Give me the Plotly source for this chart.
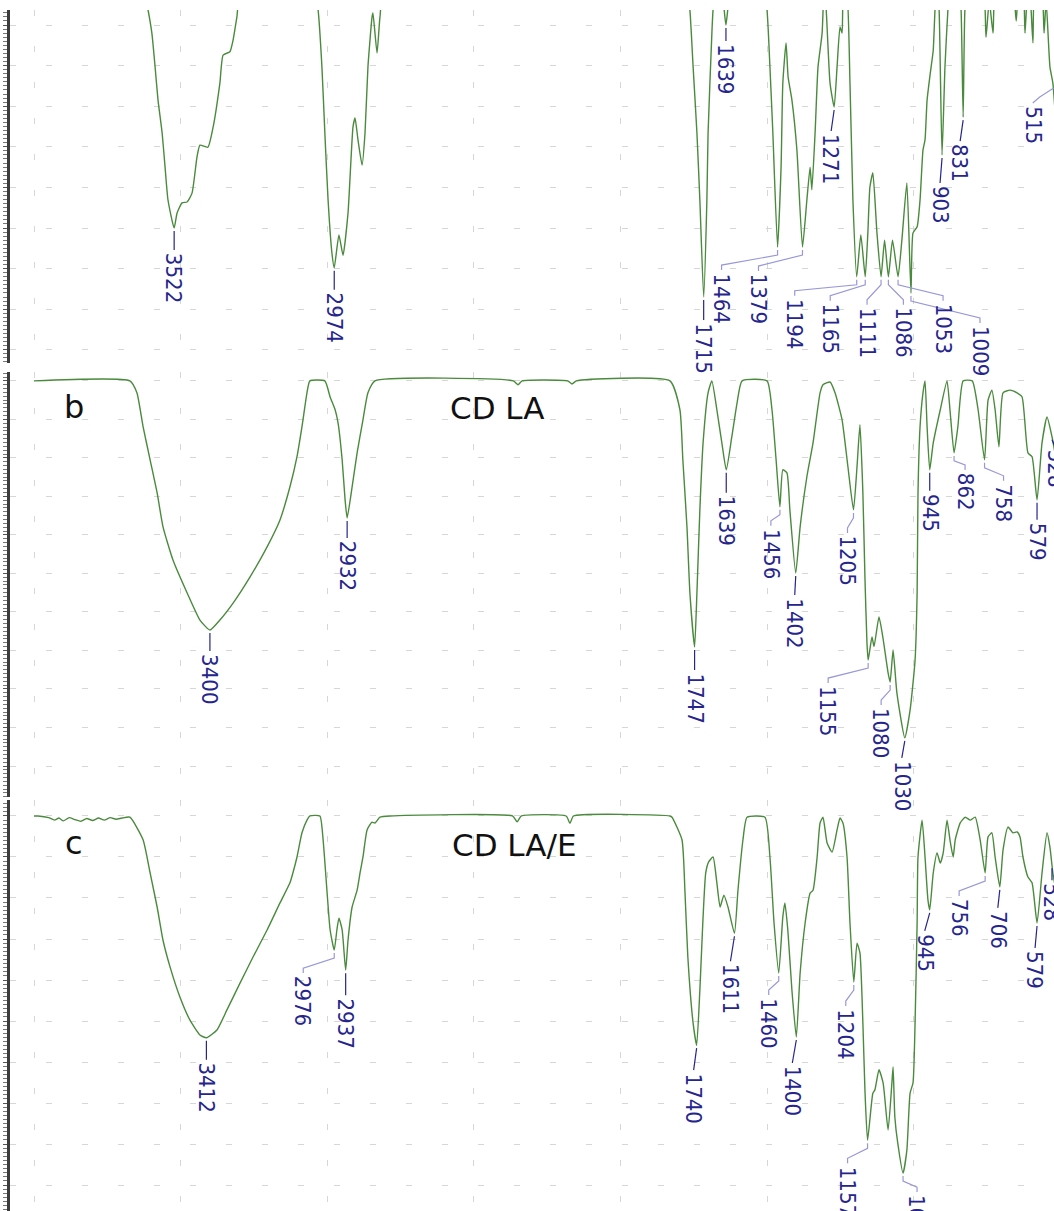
import plotly.graph_objects as go

# ---------------- data (wavenumber cm-1, transmittance %) ----------------
# panel a (top, cropped)
wn_a = [4000, 3630, 3611, 3598, 3587, 3577, 3563, 3553, 3543, 3522, 3512, 3495, 3478, 3461,
        3444, 3434, 3407, 3389, 3366, 3355, 3332, 3321, 3308, 3290,
        3045, 3031, 3018, 3008, 2997, 2984, 2976, 2960, 2946, 2929, 2912, 2905, 2895, 2881,
        2871, 2861, 2847, 2844, 2830, 2820, 2800,
        1775, 1763, 1752, 1739, 1729, 1716, 1705, 1701, 1688, 1684, 1672, 1652, 1646, 1640,
        1634, 1625, 1515, 1500, 1490, 1480, 1464, 1452, 1446, 1435, 1428, 1415, 1398, 1379,
        1364, 1353, 1347, 1336, 1326, 1312, 1305, 1298, 1285, 1271, 1261, 1251, 1244, 1238,
        1230, 1217, 1207, 1194, 1180, 1165, 1156, 1149, 1139, 1125, 1111, 1099, 1086, 1072,
        1053, 1040, 1023, 1009, 1002, 988, 978, 968, 961, 954, 943, 933, 927, 920, 913, 903,
        893, 883, 875, 845, 838, 831, 825, 815, 765, 753, 742, 729, 718, 665, 650, 640, 628,
        620, 610, 602, 593, 585, 565, 555, 548, 535, 525, 515]
t_a = [100, 100, 93.7, 88.0, 79.7, 71.5, 63.4, 55.0, 46.9, 40.0, 43.7, 46.2, 46.4, 48.6,
       57.5, 60.4, 59.9, 64.9, 75.7, 82.6, 83.4, 86.3, 92.0, 100,
       100, 93.7, 79.7, 63.4, 46.9, 33.9, 30.2, 38.3, 33.3, 43.7, 64.9, 67.1, 61.7, 55.5,
       63.4, 79.7, 92.0, 93.0, 83.1, 92.0, 100,
       100, 93.7, 79.7, 63.4, 46.9, 23.0, 46.9, 63.4, 88.0, 93.7, 100, 100, 93.7, 90.0,
       93.7, 100, 100, 93.7, 79.7, 63.4, 35.3, 55.0, 75.7, 85.6, 77.2, 71.5, 59.2, 35.3,
       46.9, 55.0, 49.4, 63.4, 79.7, 88.0, 100, 93.7, 75.7, 69.8, 79.7, 89.5, 88.0, 100,
       100, 75.7, 46.9, 28.0, 38.3, 28.0, 38.8, 50.1, 53.6, 38.8, 28.0, 37.0, 28.0, 37.0,
       28.0, 37.0, 51.1, 24.0, 38.8, 40.3, 46.9, 59.2, 61.7, 71.5, 78.2, 83.8, 93.7, 100, 93.7, 58.0,
       79.7, 93.7, 100, 100, 93.7, 67.3, 93.7, 100, 100, 87.0, 96.0, 88.0, 100, 100, 91.0, 100, 100,
       88.0, 100, 97.0, 85.6, 100, 100, 88.0, 96.0, 79.7, 75.7, 66.0]

# panel b: CD LA
wn_b = [4000, 3673, 3649, 3628, 3604, 3580, 3560, 3526, 3478, 3434, 3400, 3366, 3321, 3263,
        3205, 3161, 3127, 3103, 3086, 3069, 3059, 3008, 2990, 2973, 2963, 2949, 2939, 2932,
        2915, 2898, 2878, 2861, 2837, 2365, 2349, 2335, 2180, 2165, 2150, 1831, 1797, 1787,
        1773, 1763, 1747, 1739, 1729, 1718, 1701, 1688, 1671, 1654, 1639, 1620, 1602, 1585,
        1500, 1483, 1469, 1456, 1446, 1432, 1422, 1402, 1387, 1364, 1343, 1319, 1309, 1285,
        1268, 1244, 1224, 1205, 1193, 1183, 1173, 1166, 1159, 1155, 1142, 1135, 1118, 1104,
        1087, 1080, 1070, 1057, 1030, 1012, 995, 988, 985, 978, 968, 961, 954, 945, 933, 909,
        886, 876, 862, 849, 831, 800, 780, 758, 746, 733, 722, 709, 695, 671, 647, 630, 610,
        596, 579, 562, 545, 528, 515]
t_b = [100, 100, 96.9, 88.1, 79.5, 70.9, 62.1, 53.5, 45.0, 37.9, 35.3, 37.9, 42.3, 49.1,
       56.9, 63.9, 72.5, 80.3, 88.1, 96.9, 100, 100, 95.8, 92.5, 89.1, 79.5, 69.1, 64.4,
       72.5, 81.3, 89.9, 96.9, 100, 100, 99.0, 100, 100, 99.2, 100, 100, 92.5, 79.5,
       62.1, 45.0, 30.9, 45.0, 66.5, 83.9, 96.9, 100, 92.5, 83.9, 76.9, 85.5, 94.3, 100,
       100, 92.5, 79.5, 67.3, 76.9, 76.1, 66.5, 50.1, 62.1, 75.1, 83.9, 96.9, 99.0, 99.7,
       96.9, 89.9, 77.7, 66.5, 77.7, 88.6, 70.9, 49.1, 31.9, 27.5, 33.5, 31.0, 38.7, 33.0,
       24.2, 21.8, 30.1, 19.0, 7.3, 14.5, 27.5, 45.0, 70.9, 88.1, 96.9, 100, 88.1, 76.9, 83.9, 92.5,
       100, 92.5, 81.3, 88.1, 100, 100, 92.5, 79.5, 95.0, 97.6, 92.5, 82.9, 96.9, 97.6, 96.9, 95.8, 81.3,
       80.3, 69.1, 83.9, 90.6, 85.5, 80.0]

# panel c: CD LA/E
wn_c = [4000, 3986, 3950, 3930, 3915, 3900, 3880, 3860, 3840, 3820, 3800, 3780, 3760, 3740,
        3720, 3700, 3673, 3628, 3604, 3580, 3560, 3536, 3502, 3468, 3434, 3412, 3376, 3342,
        3297, 3253, 3205, 3161, 3127, 3117, 3103, 3086, 3069, 3059, 3025, 3014, 3001, 2990,
        2976, 2967, 2960, 2949, 2937, 2929, 2915, 2898, 2888, 2878, 2864, 2847, 2837, 2820,
        2786, 2368, 2352, 2338, 2185, 2172, 2160, 1831, 1824, 1790, 1780, 1770, 1752, 1740,
        1729, 1719, 1709, 1699, 1684, 1671, 1660, 1647, 1633, 1611, 1599, 1582, 1568, 1507,
        1490, 1476, 1460, 1446, 1439, 1429, 1415, 1400, 1387, 1370, 1353, 1343, 1329, 1319,
        1309, 1295, 1278, 1261, 1251, 1241, 1227, 1217, 1204, 1193, 1183, 1173, 1166, 1157,
        1139, 1132, 1118, 1104, 1087, 1074, 1070, 1064, 1054, 1036, 1023, 1012, 1002, 995,
        988, 985, 971, 961, 951, 945, 933, 920, 909, 899, 886, 876, 865, 858, 841, 824, 807,
        790, 773, 756, 746, 733, 722, 706, 695, 678, 661, 647, 637, 627, 610, 596, 579, 562,
        545, 535, 525, 515]
t_c = [100, 100, 99.6, 99.0, 99.5, 98.8, 99.6, 99.1, 98.7, 99.4, 98.9, 99.5, 99.0, 99.6,
       99.2, 99.5, 99.7, 94.2, 86.1, 77.8, 69.7, 63.2, 55.8, 50.2, 46.6, 45.9, 47.8, 52.7,
       59.3, 65.6, 72.2, 78.8, 83.7, 86.1, 90.0, 95.9, 99.0, 100, 100, 94.2, 81.9, 72.2,
       67.3, 72.2, 75.1, 72.2, 62.4, 69.7, 77.8, 81.9, 86.1, 90.0, 96.6, 98.5, 98.3, 99.7,
       100, 100, 98.6, 100, 100, 98.2, 100, 100, 99.7, 94.2, 81.9, 65.6, 49.5, 44.1,
       57.5, 73.9, 86.1, 88.8, 90.0, 83.7, 77.8, 80.7, 77.8, 71.4, 81.9, 94.2, 99.7, 99.7,
       90.0, 73.9, 61.7, 75.4, 78.8, 72.2, 57.5, 46.1, 61.7, 73.9, 81.2, 81.9, 90.0, 98.3,
       99.7, 93.4, 91.2, 96.6, 99.5, 98.3, 90.0, 73.9, 59.5, 69.0, 66.6, 49.5, 33.2, 20.9,
       32.4, 33.2, 38.1, 34.9, 23.4, 34.9, 38.8, 26.6, 20.2, 12.9, 18.5, 32.4, 34.9, 49.5,
       73.9, 90.0, 99.0, 90.0, 79.5, 77.1, 86.1, 91.0, 88.5, 91.0, 99.0, 94.2, 90.0, 94.2, 98.3, 99.7, 99.0,
       99.7, 94.2, 86.1, 94.9, 95.9, 90.0, 82.7, 91.7, 97.3, 95.9, 96.1, 94.9, 90.0, 85.1, 83.7, 73.9, 86.1,
       95.9, 92.4, 86.1, 82.0]

# peak labels (the 515 band of panel a lies just past the right edge; its label hangs from the edge)
labels_a = ["3522", "2974", "1715", "1639", "1464", "1379", "1271", "1194", "1165", "1111",
            "1086", "1053", "1009", "903", "831", "515"]
peak_wn_a = [3522, 2976, 1716, 1640, 1464, 1379, 1271, 1194, 1165, 1111, 1086, 1053, 1009, 903, 831, 522]
peak_t_a = [40.0, 30.2, 23.0, 90.0, 35.3, 35.3, 69.8, 28.0, 28.0, 28.0, 28.0, 28.0, 24.0, 58.0, 67.3, 74.0]

labels_b = ["3400", "2932", "1747", "1639", "1456", "1402", "1205", "1155", "1080", "1030",
            "945", "862", "758", "579", "528"]
peak_wn_b = [3400, 2932, 1747, 1639, 1456, 1402, 1205, 1155, 1080, 1030, 945, 862, 758, 579, 528]
peak_t_b = [35.3, 64.4, 30.9, 76.9, 67.3, 50.1, 66.5, 27.5, 21.8, 7.3, 76.9, 81.3, 79.5, 69.1, 85.5]

labels_c = ["3412", "2976", "2937", "1740", "1611", "1460", "1400", "1204", "1157", "1036",
            "945", "756", "706", "579", "528"]
peak_wn_c = [3412, 2976, 2937, 1740, 1611, 1460, 1400, 1204, 1157, 1036, 945, 756, 706, 579, 528]
peak_t_c = [45.9, 67.3, 62.4, 44.1, 71.4, 61.7, 46.1, 59.5, 20.9, 12.9, 77.1, 86.1, 82.7, 73.9, 88.0]

panel_titles = ["", "CD LA", "CD LA/E"]
panel_letters = ["", "b", "c"]

# ---------------- label placement (pixel offsets: dx, gap, leader kind) ----------------
place_a = [(0, 24, 0), (0, 24, 0), (0, 25, 0), (0, 18, 0), (-56, 25, 1), (-44, 26, 1), (-3, 26, 0),
           (-62, 21, 1), (-35, 26, 1), (-14, 30, 1), (15, 30, 1), (45, 26, 1), (69, 32, 1),
           (-2, 30, 0), (-3, 26, 0), (-21, 15, 2)]
place_b = [(0, 23, 0), (0, 22, 0), (0, 25, 0), (0, 25, 0), (-9, 21, 1), (-1, 24, 0), (-6, 25, 1),
           (-40, 25, 1), (-9, 25, 1), (-3, 22, 0), (0, 23, 0), (11, 19, 1), (19, 23, 1),
           (0, 22, 0), (3, 12, 0)]
place_c = [(0, 24, 0), (-31, 25, 1), (0, 27, 0), (-3, 27, 0), (-4, 30, 0), (-10, 24, 1), (-4, 28, 0),
           (-8, 26, 1), (-20, 25, 1), (14, 21, 1), (-5, 23, 0), (-26, 25, 1), (-2, 23, 0),
           (-2, 27, 0), (0, 17, 0)]

W, H = 1054, 1211
GREEN = "#4a8a3d"
NAVY = "#25258c"
LAV = "#9898d8"
LABEL_FONT = dict(family="Liberation Sans Narrow, Arial Narrow, DejaVu Sans Condensed, Liberation Sans, sans-serif",
                  size=22, color=NAVY)

x_px0 = 10
x_range = [4000 + (34 - x_px0) / 0.2932, 4000 - (W - 34) / 0.2932]
domains = [[1 - 363 / H, 1 - 10 / H], [1 - 797 / H, 1 - 372 / H], [0.0, 1 - 800 / H]]
yranges = [[6.75, 93.7], [-8.05, 102.3], [3.66, 103.9]]

fig = go.Figure()
series = [(wn_a, t_a), (wn_b, t_b), (wn_c, t_c)]
labels = [(labels_a, peak_wn_a, peak_t_a, place_a),
          (labels_b, peak_wn_b, peak_t_b, place_b),
          (labels_c, peak_wn_c, peak_t_c, place_c)]

grid = dict(showgrid=True, gridcolor="#d6d6d6", griddash="6px,30px", gridwidth=1)
annotations = []
shapes = []
for i in range(3):
    sfx = "" if i == 0 else str(i + 1)
    xa, ya = "x" + sfx, "y" + sfx
    wn, t = series[i]
    fig.add_trace(go.Scatter(x=wn, y=t, mode="lines",
                             line=dict(color=GREEN, width=1.4, shape="spline", smoothing=0.5),
                             xaxis=xa, yaxis=ya, hoverinfo="skip", showlegend=False))
    fig.update_layout(**{
        "xaxis" + sfx: dict(domain=[x_px0 / W, 1], range=x_range, anchor=ya, showticklabels=False,
                            ticks="", tick0=0, dtick=500, zeroline=False, showline=False, **grid),
        "yaxis" + sfx: dict(domain=domains[i], range=yranges[i], anchor=xa, showticklabels=False,
                            tick0=0, dtick=10, ticks="outside", ticklen=4, tickcolor="#555",
                            zeroline=False, showline=True, linecolor="#3c3c3c", linewidth=3,
                            minor=dict(dtick=1, ticks="outside", ticklen=4, tickcolor="#777",
                                       showgrid=False),
                            **grid),
    })
    labs, pwn, pt, plc = labels[i]
    for lab, x, y, (dx, gap, kind) in zip(labs, pwn, pt, plc):
        annotations.append(dict(x=x, y=y, xref=xa, yref=ya, text=lab, textangle=90,
                                xanchor="center", yanchor="top", xshift=dx, yshift=-gap,
                                showarrow=False, font=LABEL_FONT, borderpad=0))
        if kind == 0:
            path = f"M0,-3 L{dx},{-(gap - 2)}"
            col = NAVY
        elif kind == 1:
            path = f"M0,-3 L0,-8 L{dx},{-(gap - 7)} L{dx},{-(gap - 2)}"
            col = LAV
        else:
            path = f"M0,2 L-14,-7 L{dx},{-(gap - 2)}"
            col = LAV
        shapes.append(dict(type="path", xref=xa, yref=ya, xsizemode="pixel", ysizemode="pixel",
                           xanchor=x, yanchor=y, path=path, line=dict(color=col, width=1.2)))

# panel letters and titles (paper coordinates)
TITLE_FONT = dict(family="DejaVu Sans", size=31, color="#111")
annotations.append(dict(x=62 / W, y=1 - 386 / H, xref="paper", yref="paper", text=panel_letters[1],
                        xanchor="left", yanchor="top", showarrow=False,
                        font=dict(family="DejaVu Sans", size=32, color="#111")))
annotations.append(dict(x=497 / W, y=1 - 388 / H, xref="paper", yref="paper", text=panel_titles[1],
                        xanchor="center", yanchor="top", showarrow=False, font=TITLE_FONT))
annotations.append(dict(x=63 / W, y=1 - 822 / H, xref="paper", yref="paper", text=panel_letters[2],
                        xanchor="left", yanchor="top", showarrow=False,
                        font=dict(family="DejaVu Sans", size=32, color="#111")))
annotations.append(dict(x=514 / W, y=1 - 825 / H, xref="paper", yref="paper", text=panel_titles[2],
                        xanchor="center", yanchor="top", showarrow=False, font=TITLE_FONT))

fig.update_layout(width=W, height=H, margin=dict(l=0, r=0, t=0, b=0),
                  paper_bgcolor="white", plot_bgcolor="white",
                  annotations=annotations, shapes=shapes, showlegend=False)

fig.write_html("out.html", config={"displayModeBar": False, "staticPlot": True},
               post_script="document.body.style.margin='0px';document.body.style.overflow='hidden';")
